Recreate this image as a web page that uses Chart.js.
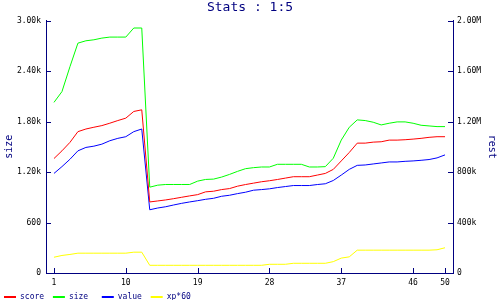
<!DOCTYPE html>
<html>
<head>
<meta charset="utf-8">
<script src="https://cdn.jsdelivr.net/npm/chart.js@4/dist/chart.umd.min.js"></script>
<style>
  html, body { margin: 0; padding: 0; background: #fff; }
  #wrap { width: 500px; height: 300px; }
</style>
</head>
<body>
<div id="wrap"><canvas id="myChart" width="500" height="300"></canvas></div>
<script>
// x categories 1..50
const points = [];
for (let i = 1; i <= 50; i++) points.push(i);
const xTicks = [1, 10, 19, 28, 37, 46, 50];

// left axis (size)
const size = [2028, 2156, 2452, 2732, 2760, 2772, 2792, 2804, 2804, 2804, 2912, 2912,
  1020, 1044, 1052, 1052, 1052, 1052, 1092, 1112, 1116, 1140, 1172, 1208, 1240,
  1252, 1260, 1260, 1292, 1292, 1292, 1292, 1260, 1260, 1264, 1364, 1580, 1732,
  1820, 1812, 1792, 1760, 1780, 1796, 1796, 1780, 1756, 1748, 1740, 1740];

// right axis (rest)
const score = [907000, 968000, 1035000, 1120000, 1141000, 1155000, 1168000, 1187000, 1208000, 1227000, 1280000, 1293000,
  563000, 571000, 579000, 589000, 600000, 611000, 621000, 643000, 648000, 661000, 669000, 688000, 701000,
  712000, 723000, 731000, 741000, 752000, 763000, 763000, 763000, 776000, 789000, 821000, 888000, 955000,
  1029000, 1029000, 1037000, 1040000, 1053000, 1053000, 1056000, 1061000, 1067000, 1075000, 1080000, 1080000];
const value = [789000, 843000, 901000, 968000, 995000, 1005000, 1021000, 1048000, 1067000, 1080000, 1120000, 1141000,
  501000, 515000, 525000, 539000, 552000, 563000, 573000, 584000, 592000, 608000, 616000, 629000, 640000,
  656000, 661000, 667000, 677000, 685000, 693000, 693000, 693000, 701000, 707000, 733000, 776000, 821000,
  853000, 856000, 864000, 872000, 880000, 880000, 885000, 888000, 893000, 899000, 912000, 936000];
const xp60 = [125000, 139000, 147000, 157000, 157000, 157000, 157000, 157000, 157000, 157000, 165000, 165000,
  61000, 61000, 61000, 61000, 61000, 61000, 61000, 61000, 61000, 61000, 61000, 61000, 61000,
  61000, 61000, 69000, 69000, 69000, 77000, 77000, 77000, 77000, 77000, 90000, 118000, 128000,
  181000, 181000, 181000, 181000, 181000, 181000, 181000, 181000, 181000, 181000, 184000, 200000];

const navy = '#000080';
const mono = "'DejaVu Sans Mono', monospace";

function fmt(v) {
  if (v === 0) return '0';
  if (v >= 1e6) return (v / 1e6).toPrecision(3) + 'M';
  if (v >= 1e3) return (v / 1e3).toPrecision(3) + 'k';
  return String(v);
}

// ticks drawn inside the plot
const innerTicks = {
  id: 'innerTicks',
  afterDraw(chart) {
    const ctx = chart.ctx;
    ctx.save();
    ctx.strokeStyle = navy;
    ctx.lineWidth = 1;
    ['x', 'y', 'y1'].forEach((id) => {
      const s = chart.scales[id];
      s.ticks.forEach((t, i) => {
        const p = Math.round(s.getPixelForTick(i)) + 0.5;
        ctx.beginPath();
        if (id === 'x') { ctx.moveTo(p, s.top); ctx.lineTo(p, s.top - 5); }
        else if (id === 'y') { ctx.moveTo(s.right, p); ctx.lineTo(s.right + 5, p); }
        else { ctx.moveTo(s.left, p); ctx.lineTo(s.left - 5, p); }
        ctx.stroke();
      });
    });
    ctx.restore();
  }
};

function line(label, data, color, axis) {
  return { label: label, data: data, borderColor: color, backgroundColor: color,
    borderWidth: 1, pointRadius: 0, tension: 0, yAxisID: axis };
}

const ctx = document.getElementById('myChart');
new Chart(ctx, {
  type: 'line',
  data: {
    labels: points,
    datasets: [
      line('score', score, '#ff0000', 'y1'),
      line('size', size, '#00ff00', 'y'),
      line('value', value, '#0000ff', 'y1'),
      line('xp*60', xp60, '#ffff00', 'y1')
    ]
  },
  options: {
    responsive: false,
    animation: false,
    layout: { padding: { left: 0, right: 0, top: 0, bottom: -11 } },
    plugins: {
      title: {
        display: true, text: 'Stats : 1:5', color: navy,
        font: { family: mono, size: 13, weight: 'normal' },
        padding: { top: 0, bottom: 5 }
      },
      legend: {
        position: 'bottom', align: 'start',
        labels: {
          color: navy, boxWidth: 12, boxHeight: 2, padding: 4,
          font: { family: mono, size: 8 },
          generateLabels(chart) {
            const items = Chart.defaults.plugins.legend.labels.generateLabels(chart);
            items.forEach((it) => { it.text = it.text.padEnd(6); it.lineWidth = 0; });
            return items;
          }
        }
      },
      tooltip: { enabled: false }
    },
    scales: {
      x: {
        type: 'linear', min: 0, max: 51,
        grid: { display: false, drawTicks: false },
        border: { display: true, color: navy, width: 1 },
        afterBuildTicks: (s) => { s.ticks = xTicks.map((v) => ({ value: v })); },
        afterFit: (s) => { s.height = 16; },
        ticks: { color: '#000', padding: 5, font: { family: mono, size: 8 }, autoSkip: false, maxRotation: 0,
          callback: (v) => String(v) }
      },
      y: {
        position: 'left', min: 0, max: 3000,
        grid: { display: false, drawTicks: false },
        border: { display: true, color: navy, width: 1 },
        afterFit: (s) => { s.width = 46; },
        ticks: { stepSize: 600, color: '#000', padding: 5, font: { family: mono, size: 8 }, callback: fmt },
        title: { display: true, text: 'size', color: navy, padding: { top: 3, bottom: 0 },
          font: { family: mono, size: 10 } }
      },
      y1: {
        position: 'right', min: 0, max: 2000000,
        grid: { display: false, drawTicks: false },
        border: { display: true, color: navy, width: 1 },
        afterFit: (s) => { s.width = 47; },
        ticks: { stepSize: 400000, color: '#000', padding: 4, font: { family: mono, size: 8 }, callback: fmt },
        title: { display: true, text: 'rest', color: navy, padding: { top: 2, bottom: 0 },
          font: { family: mono, size: 10 } }
      }
    }
  },
  plugins: [innerTicks]
});
</script>
</body>
</html>
